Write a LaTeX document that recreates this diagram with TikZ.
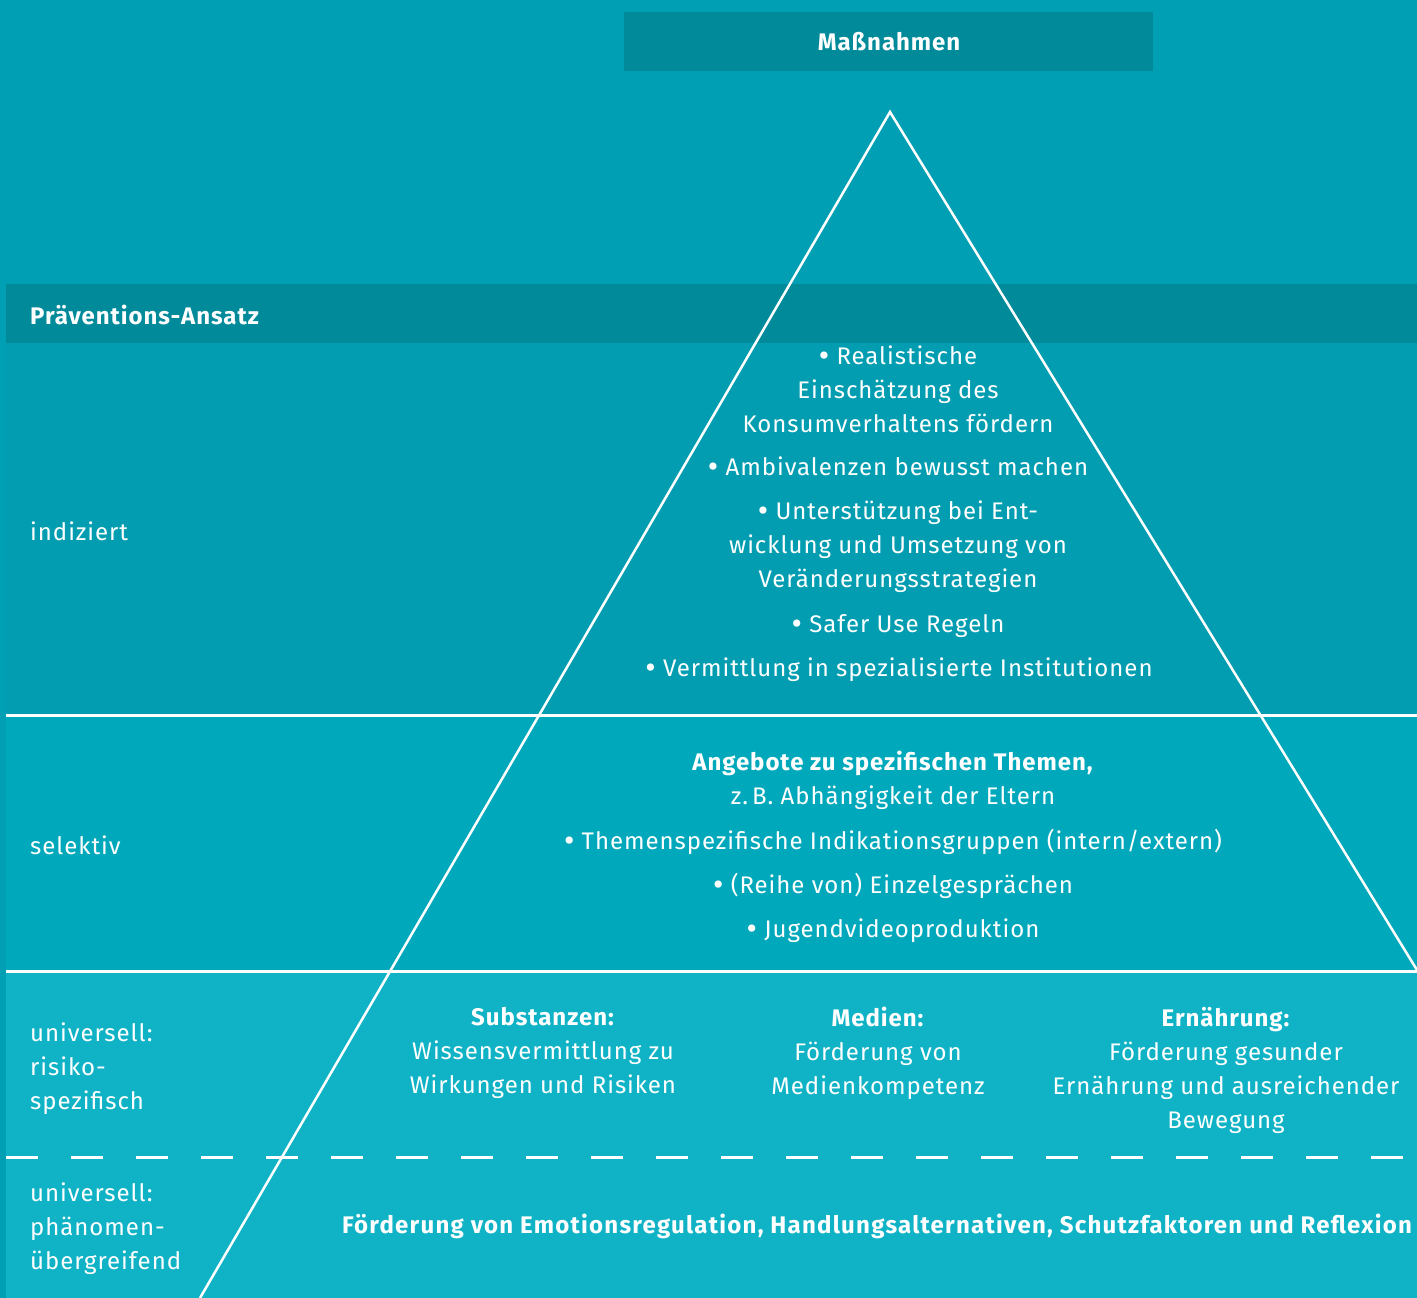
\documentclass[tikz,border=0pt]{standalone}
\usepackage{fontspec}
\setmainfont{Fira Sans}[LetterSpace=4]
\definecolor{bgc}{RGB}{1,159,179}
\definecolor{barc}{RGB}{0,138,154}
\definecolor{indc}{RGB}{2,157,176}
\definecolor{selc}{RGB}{0,168,187}
\definecolor{unic}{RGB}{16,179,198}
\newcommand\bul{\raisebox{-2pt}{\fontsize{32}{34}\selectfont•}}
\begin{document}
\begin{tikzpicture}[x=1pt,y=-1pt,
  txt/.style={text=white, font=\fontsize{24}{34}\selectfont, inner sep=0pt, align=center},
  lbl/.style={text=white, font=\fontsize{24}{34}\selectfont, inner sep=0pt, align=left, anchor=west},
  sep/.style={draw=white, line width=3pt},
  tri/.style={draw=white, line width=2.5pt}]
\fill[bgc] (0,0) rectangle (1417,1298);
\useasboundingbox (0,0) rectangle (1417,1298);
\fill[indc] (6,343) rectangle (1417,715);
\fill[selc] (6,715) rectangle (1417,971);
\fill[unic] (6,971) rectangle (1417,1298);
\fill[barc] (6,284) rectangle (1417,343);
\fill[barc] (624,12) rectangle (1153,71);
% separators
\coordinate (s1l) at (6,715);
\coordinate (s1r) at (1417,715);
\coordinate (s2l) at (6,971);
\coordinate (s2r) at (1417,971);
\coordinate (s3l) at (6,1157);
\coordinate (s3r) at (1417,1157);
\draw[sep] (s1l) -- (s1r);
\draw[sep] (s2l) -- (s2r);
\draw[sep, dash pattern=on 32pt off 33pt] (s3l) -- (s3r);
% triangle
\coordinate (apex) at (890,112);
\coordinate (bl) at (200,1298);
\coordinate (br) at (1417,970);
\draw[tri, line join=miter] (bl) -- (apex) -- (br);
% headers
\node[txt, font=\fontsize{24}{34}\selectfont\bfseries] (mass) at (889,42) {Maßnahmen};
\node[lbl, font=\fontsize{24}{34}\selectfont\bfseries] (prae) at (30,315) {Präventions-Ansatz};
% left labels
\node[lbl] (ind) at (30,531) {indiziert};
\node[lbl] (sel) at (30,845) {selektiv};
\node[lbl] (unir) at (30,1069) {universell:\\risiko-\\spezifisch};
\node[lbl] (unip) at (30,1229) {universell:\\phänomen-\\übergreifend};
% indiziert
\node[txt] (i1) at (898,389) {\bul\ Realistische\\Einschätzung des\\Konsumverhaltens fördern};
\node[txt] (i2) at (898,467) {\bul\ Ambivalenzen bewusst machen};
\node[txt] (i3) at (898,547) {\bul\ Unterstützung bei Ent-\\wicklung und Umsetzung von\\Veränderungsstrategien};
\node[txt] (i4) at (898,626) {\bul\ Safer Use Regeln};
\node[txt] (i5) at (899,670) {\bul\ Vermittlung in spezialisierte Institutionen};
% selektiv
\node[txt] (e1) at (893,780) {\textbf{Angebote zu spezifischen Themen,}\\z.\,B. Abhängigkeit der Eltern};
\node[txt] (e2) at (893,842) {\bul\ Themenspezifische Indikationsgruppen (intern/extern)};
\node[txt] (e3) at (893,886) {\bul\ (Reihe von) Einzelgesprächen};
\node[txt] (e4) at (893,931) {\bul\ Jugendvideoproduktion};
% universell risiko
\node[txt] (u1) at (543,1053) {\textbf{Substanzen:}\\Wissensvermittlung zu\\Wirkungen und Risiken};
\node[txt] (u2) at (878,1053) {\textbf{Medien:}\\Förderung von\\Medienkompetenz};
\node[txt] (u3) at (1226,1070) {\textbf{Ernährung:}\\Förderung gesunder\\Ernährung und ausreichender\\Bewegung};
% universell phaenomen
\node[txt, font=\fontsize{24}{34}\selectfont\bfseries\addfontfeatures{LetterSpace=5.2}] (p1) at (877,1226) {Förderung von Emotionsregulation, Handlungsalternativen, Schutzfaktoren und Reflexion};
\end{tikzpicture}
\end{document}
